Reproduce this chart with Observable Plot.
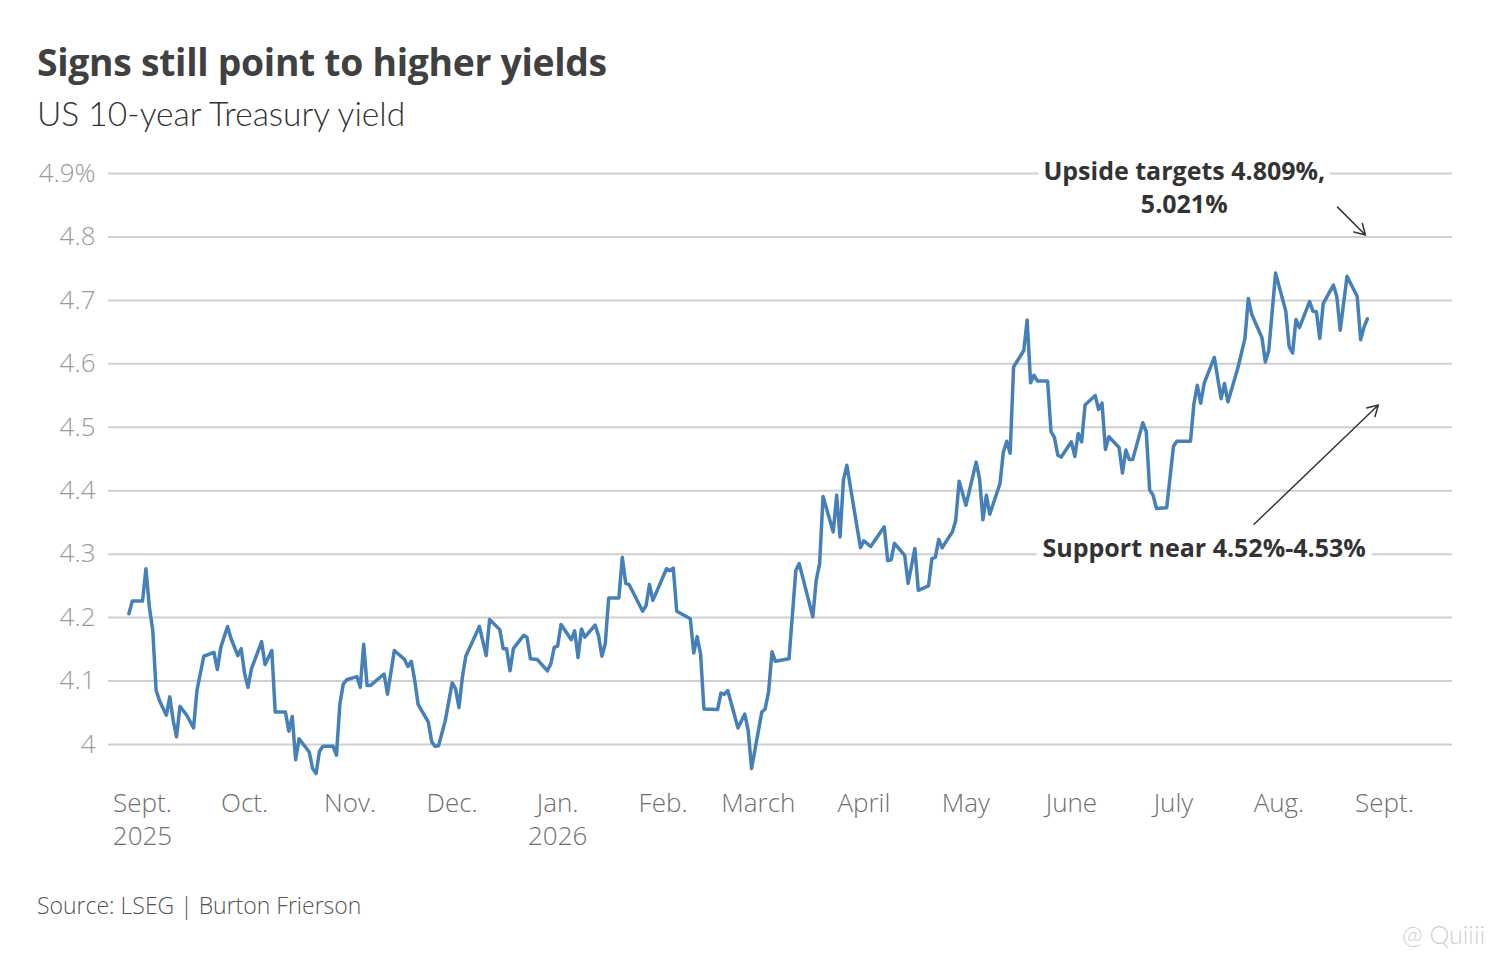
<!DOCTYPE html>
<html><head><meta charset="utf-8">
<script src="https://cdn.jsdelivr.net/npm/d3@7"></script>
<script src="https://cdn.jsdelivr.net/npm/@observablehq/plot@0.6"></script>
<style>
body{margin:0;background:#fff;width:1496px;height:960px;position:relative;overflow:hidden;font-family:Lato,"Noto Sans",sans-serif}
.t{position:absolute;white-space:nowrap;line-height:1}
#title{left:37px;top:43px;font-family:"Open Sans",sans-serif;font-size:37.3px;font-weight:700;color:#404040;letter-spacing:-0.3px}
#subtitle{left:37px;top:97px;font-size:33.5px;font-weight:300;color:#333}
#source{left:37px;top:894px;font-family:"Open Sans",sans-serif;font-size:23px;font-weight:300;color:#555}
#wm{left:1402px;top:922px;font-size:25px;font-weight:300;color:#cfcfcf}
#chart{position:absolute;left:0;top:140px}
</style></head>
<body>
<div class="t" id="title">Signs still point to higher yields</div>
<div class="t" id="subtitle">US 10-year Treasury yield</div>
<div id="chart"></div>
<div class="t" id="source">Source: LSEG | Burton Frierson</div>
<div class="t" id="wm">@ Quiiii</div>
<script>
const dates = ["2025-08-28","2025-08-29","2025-09-01","2025-09-02","2025-09-03","2025-09-04","2025-09-05","2025-09-06","2025-09-08","2025-09-09","2025-09-10","2025-09-11","2025-09-12","2025-09-14","2025-09-16","2025-09-17","2025-09-19","2025-09-22","2025-09-23","2025-09-24","2025-09-26","2025-09-27","2025-09-29","2025-09-30","2025-10-01","2025-10-02","2025-10-03","2025-10-06","2025-10-07","2025-10-09","2025-10-10","2025-10-13","2025-10-14","2025-10-15","2025-10-16","2025-10-17","2025-10-20","2025-10-21","2025-10-22","2025-10-23","2025-10-24","2025-10-27","2025-10-28","2025-10-29","2025-10-30","2025-10-31","2025-11-03","2025-11-04","2025-11-05","2025-11-06","2025-11-07","2025-11-11","2025-11-12","2025-11-14","2025-11-17","2025-11-18","2025-11-19","2025-11-20","2025-11-21","2025-11-24","2025-11-25","2025-11-26","2025-11-27","2025-11-29","2025-12-01","2025-12-02","2025-12-03","2025-12-04","2025-12-05","2025-12-09","2025-12-11","2025-12-12","2025-12-15","2025-12-16","2025-12-17","2025-12-18","2025-12-19","2025-12-22","2025-12-23","2025-12-24","2025-12-26","2025-12-29","2025-12-30","2025-12-31","2026-01-01","2026-01-02","2026-01-05","2026-01-06","2026-01-07","2026-01-08","2026-01-09","2026-01-12","2026-01-13","2026-01-14","2026-01-15","2026-01-16","2026-01-19","2026-01-20","2026-01-21","2026-01-22","2026-01-26","2026-01-27","2026-01-28","2026-01-29","2026-02-02","2026-02-03","2026-02-04","2026-02-05","2026-02-09","2026-02-10","2026-02-11","2026-02-12","2026-02-13","2026-02-17","2026-02-18","2026-02-19","2026-02-20","2026-02-23","2026-02-25","2026-02-26","2026-02-27","2026-03-02","2026-03-03","2026-03-04","2026-03-05","2026-03-06","2026-03-10","2026-03-12","2026-03-13","2026-03-17","2026-03-18","2026-03-19","2026-03-20","2026-03-23","2026-03-24","2026-03-25","2026-03-26","2026-03-27","2026-03-31","2026-04-01","2026-04-03","2026-04-07","2026-04-08","2026-04-09","2026-04-10","2026-04-13","2026-04-14","2026-04-16","2026-04-17","2026-04-20","2026-04-21","2026-04-22","2026-04-23","2026-04-24","2026-04-27","2026-04-28","2026-04-29","2026-05-01","2026-05-04","2026-05-05","2026-05-06","2026-05-07","2026-05-08","2026-05-11","2026-05-12","2026-05-13","2026-05-14","2026-05-15","2026-05-18","2026-05-19","2026-05-20","2026-05-21","2026-05-22","2026-05-25","2026-05-26","2026-05-27","2026-05-28","2026-05-29","2026-06-01","2026-06-02","2026-06-03","2026-06-04","2026-06-05","2026-06-08","2026-06-09","2026-06-10","2026-06-11","2026-06-12","2026-06-15","2026-06-16","2026-06-17","2026-06-18","2026-06-19","2026-06-22","2026-06-23","2026-06-24","2026-06-25","2026-06-26","2026-06-29","2026-07-01","2026-07-02","2026-07-06","2026-07-07","2026-07-08","2026-07-09","2026-07-10","2026-07-13","2026-07-15","2026-07-16","2026-07-17","2026-07-20","2026-07-22","2026-07-23","2026-07-24","2026-07-27","2026-07-28","2026-07-29","2026-07-31","2026-08-03","2026-08-04","2026-08-05","2026-08-06","2026-08-07","2026-08-10","2026-08-11","2026-08-12","2026-08-13","2026-08-14","2026-08-17","2026-08-18","2026-08-19","2026-08-21","2026-08-24","2026-08-25","2026-08-26","2026-08-27"];
const yields = [4.206,4.226,4.226,4.277,4.217,4.180,4.085,4.069,4.046,4.075,4.038,4.012,4.060,4.046,4.026,4.085,4.139,4.145,4.118,4.153,4.186,4.167,4.140,4.151,4.112,4.090,4.119,4.162,4.126,4.148,4.051,4.051,4.021,4.044,3.976,4.009,3.988,3.962,3.954,3.989,3.997,3.997,3.983,4.064,4.095,4.102,4.107,4.090,4.158,4.093,4.093,4.111,4.079,4.148,4.134,4.123,4.131,4.101,4.063,4.035,4.004,3.997,3.998,4.038,4.097,4.088,4.058,4.106,4.139,4.186,4.140,4.197,4.181,4.151,4.151,4.116,4.151,4.172,4.169,4.135,4.134,4.116,4.127,4.153,4.155,4.189,4.165,4.179,4.137,4.182,4.169,4.188,4.172,4.139,4.159,4.231,4.231,4.295,4.254,4.252,4.210,4.219,4.252,4.227,4.277,4.274,4.278,4.210,4.198,4.144,4.170,4.143,4.056,4.055,4.081,4.079,4.085,4.026,4.048,4.022,3.962,4.051,4.056,4.083,4.146,4.131,4.135,4.274,4.285,4.201,4.259,4.285,4.391,4.335,4.393,4.327,4.417,4.440,4.310,4.321,4.312,4.343,4.290,4.291,4.317,4.298,4.254,4.309,4.243,4.250,4.293,4.295,4.323,4.310,4.335,4.353,4.415,4.377,4.445,4.419,4.354,4.393,4.363,4.411,4.461,4.478,4.459,4.595,4.621,4.669,4.570,4.582,4.573,4.573,4.493,4.484,4.456,4.453,4.477,4.454,4.490,4.477,4.535,4.550,4.528,4.538,4.465,4.485,4.468,4.428,4.464,4.449,4.449,4.507,4.493,4.401,4.393,4.372,4.373,4.470,4.478,4.478,4.537,4.566,4.538,4.569,4.610,4.545,4.569,4.540,4.595,4.640,4.703,4.678,4.641,4.603,4.621,4.743,4.683,4.627,4.617,4.670,4.657,4.698,4.683,4.682,4.640,4.695,4.724,4.706,4.653,4.738,4.706,4.638,4.658,4.671];

const yTicks = [4.0,4.1,4.2,4.3,4.4,4.5,4.6,4.7,4.8,4.9];
const yTickLabels = ["4","4.1","4.2","4.3","4.4","4.5","4.6","4.7","4.8","4.9%"];
const xTicks = ["2025-09-01","2025-10-01","2025-11-01","2025-12-01","2026-01-01","2026-02-01","2026-03-01","2026-04-01","2026-05-01","2026-06-01","2026-07-01","2026-08-01","2026-09-01"];
const xTickLabels = ["Sept.\n2025","Oct.","Nov.","Dec.","Jan.\n2026","Feb.","March","April","May","June","July","Aug.","Sept."];

const upsideNote = [{text:"Upside targets 4.809%,\n5.021%", date:"2026-07-04T04:00Z", value:4.9}];
const supportNote = [{text:"Support near 4.52%-4.53%", date:"2026-07-10T00:00Z", value:4.3}];
const arrowFromDate = ["2026-08-18T05:00Z","2026-07-24T16:00Z"];
const arrowFromValue = [4.847,4.347];
const arrowToDate = ["2026-08-26T10:00Z","2026-08-30T05:00Z"];
const arrowToValue = [4.803,4.535];

const series = dates.map((d,i)=>({date:new Date(d), value:yields[i]}));
const yLab = new Map(yTicks.map((v,i)=>[v.toFixed(1), yTickLabels[i]]));
const xTickDates = xTicks.map(d=>new Date(d));
const xLab = new Map(xTickDates.map((d,i)=>[+d, xTickLabels[i]]));
const arrows = arrowFromDate.map((d,i)=>({x1:new Date(d), y1:arrowFromValue[i], x2:new Date(arrowToDate[i]), y2:arrowToValue[i]}));
const noteStyle = {x:d=>new Date(d.date), y:"value", text:"text", fill:"#333", stroke:"white", strokeWidth:14, fontWeight:700, fontSize:25, fontFamily:"'Open Sans', sans-serif", lineHeight:1.32};

const chart = Plot.plot({
  width: 1496, height: 730,
  marginLeft: 108, marginRight: 44, marginTop: 33, marginBottom: 88,
  x: {type:"utc", domain:[new Date("2025-08-22"), new Date("2026-09-21")]},
  y: {domain:[3.94, 4.9]},
  style: {fontFamily:"'Open Sans', Lato, sans-serif", fontSize:"26px", background:"#fff", overflow:"visible"},
  marks: [
    Plot.ruleY(yTicks, {stroke:"#cfcfcf", strokeWidth:2}),
    Plot.axisY(yTicks, {tickSize:0, tickPadding:13, tickFormat:d=>yLab.get(d.toFixed(1)), fill:"#9a9a9a", fontWeight:300, label:null}),
    Plot.axisX(xTickDates, {tickSize:0, tickPadding:6, tickFormat:d=>xLab.get(+d), fill:"#707070", fontWeight:300, lineHeight:1.27, label:null}),
    Plot.line(series, {x:"date", y:"value", stroke:"#4580b9", strokeWidth:3.5, strokeLinejoin:"round", strokeLinecap:"round"}),
    Plot.text(upsideNote, {...noteStyle, lineAnchor:"top", dy:-17}),
    Plot.text(supportNote, {...noteStyle, lineAnchor:"middle", dy:-8}),
    Plot.arrow(arrows, {x1:"x1", y1:"y1", x2:"x2", y2:"y2", stroke:"#333", strokeWidth:1.5, headLength:12, headAngle:60})
  ]
});
document.getElementById("chart").append(chart);
</script>
</body></html>
